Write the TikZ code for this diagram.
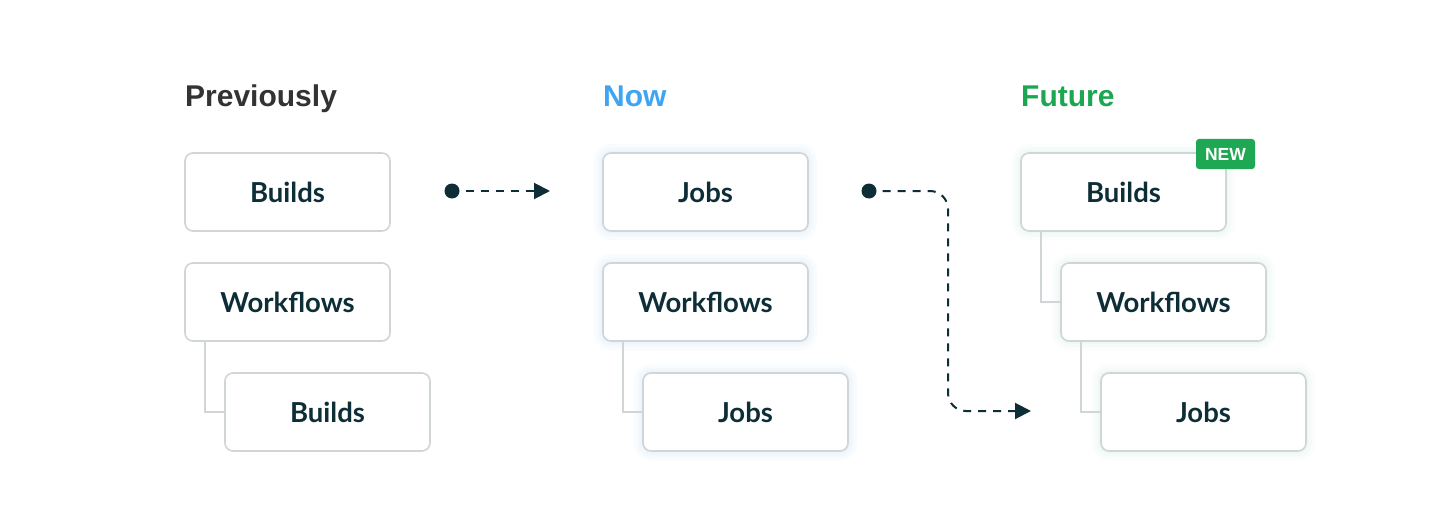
\documentclass[tikz,border=0pt]{standalone}
\usepackage{fontspec}
\setmainfont{Liberation Sans}
\newfontfamily\boxfont{Lato}
\usetikzlibrary{arrows.meta}
\definecolor{dark}{HTML}{0D2E37}
\definecolor{headgray}{HTML}{333333}
\definecolor{headblue}{HTML}{3DA5F2}
\definecolor{headgreen}{HTML}{1DA652}
\definecolor{badgegreen}{HTML}{1FA853}
\definecolor{bordercol}{HTML}{D0D5D8}
\definecolor{glowblue}{HTML}{9CC8F0}
\definecolor{glowgreen}{HTML}{A8DDB8}
\tikzset{
  box/.style={draw=bordercol, line width=1.6pt, fill=white, rounded corners=8pt,
    minimum width=205pt, minimum height=78pt, inner sep=0pt,
    text=dark, font=\boxfont\bfseries\fontsize{27.5}{32}\selectfont},
  glowb/.style={preaction={draw=glowblue, line width=18pt, opacity=0.05},
    preaction={draw=glowblue, line width=11pt, opacity=0.06},
    preaction={draw=glowblue, line width=5pt, opacity=0.07}},
  glowg/.style={preaction={draw=glowgreen, line width=18pt, opacity=0.05},
    preaction={draw=glowgreen, line width=11pt, opacity=0.06},
    preaction={draw=glowgreen, line width=5pt, opacity=0.07}},
  heading/.style={anchor=base west, inner sep=0pt, font=\bfseries\fontsize{30}{36}\selectfont},
  tree/.style={draw=bordercol, line width=1.6pt},
  dot/.style={circle, fill=dark, minimum size=15pt, inner sep=0pt},
  flow/.style={draw=dark, line width=2pt, dash pattern=on 8pt off 7pt,
    -{Triangle[length=16pt,width=16pt]}},
  badge/.style={fill=badgegreen, rounded corners=3pt, minimum width=59pt, minimum height=30pt,
    inner sep=0pt, text=white, font=\bfseries\fontsize{17.5}{20}\selectfont}
}
\begin{document}
\begin{tikzpicture}[x=1pt,y=-1pt]
\useasboundingbox (0,0) rectangle (1440,532);
\fill[white] (0,0) rectangle (1440,532);

% headings
\node[heading, text=headgray] (h1) at (185,107) {Previously};
\node[heading, text=headblue] (h2) at (603,107) {Now};
\node[heading, text=headgreen] (h3) at (1021,107) {Future};

% tree lines
\coordinate (t1) at (205,341);
\coordinate (t2) at (623,341);
\coordinate (t3) at (1041,231);
\coordinate (t4) at (1081,341);

% column 1
\node[box] (p1) at (287.5,192) {Builds};
\node[box] (p2) at (287.5,302) {Workflows};
\node[box] (p3) at (327.5,412) {Builds};
\draw[tree] (t1) |- (p3.west);

% column 2
\node[box, glowb] (n1) at (705.5,192) {Jobs};
\node[box, glowb] (n2) at (705.5,302) {Workflows};
\node[box, glowb] (n3) at (745.5,412) {Jobs};
\draw[tree] (t2) |- (n3.west);

% column 3
\node[box, glowg] (f1) at (1123.5,192) {Builds};
\node[box, glowg] (f2) at (1163.5,302) {Workflows};
\node[box, glowg] (f3) at (1203.5,412) {Jobs};
\draw[tree] (t3) |- (f2.west);
\draw[tree] (t4) |- (f3.west);
\node[badge] (nb) at (1225.5,154) {NEW};

% flow arrows
\node[dot] (d1) at (452,191) {};
\coordinate (a1) at (550,191);
\draw[flow] ([xshift=6pt]d1.east) -- (a1);

\node[dot] (d2) at (869,191) {};
\coordinate (c1) at (948,191);
\coordinate (c2) at (948,411);
\coordinate (a2) at (1031,411);
\draw[flow, rounded corners=18pt] ([xshift=6pt]d2.east) -- (c1) -- (c2) -- (a2);
\end{tikzpicture}
\end{document}
